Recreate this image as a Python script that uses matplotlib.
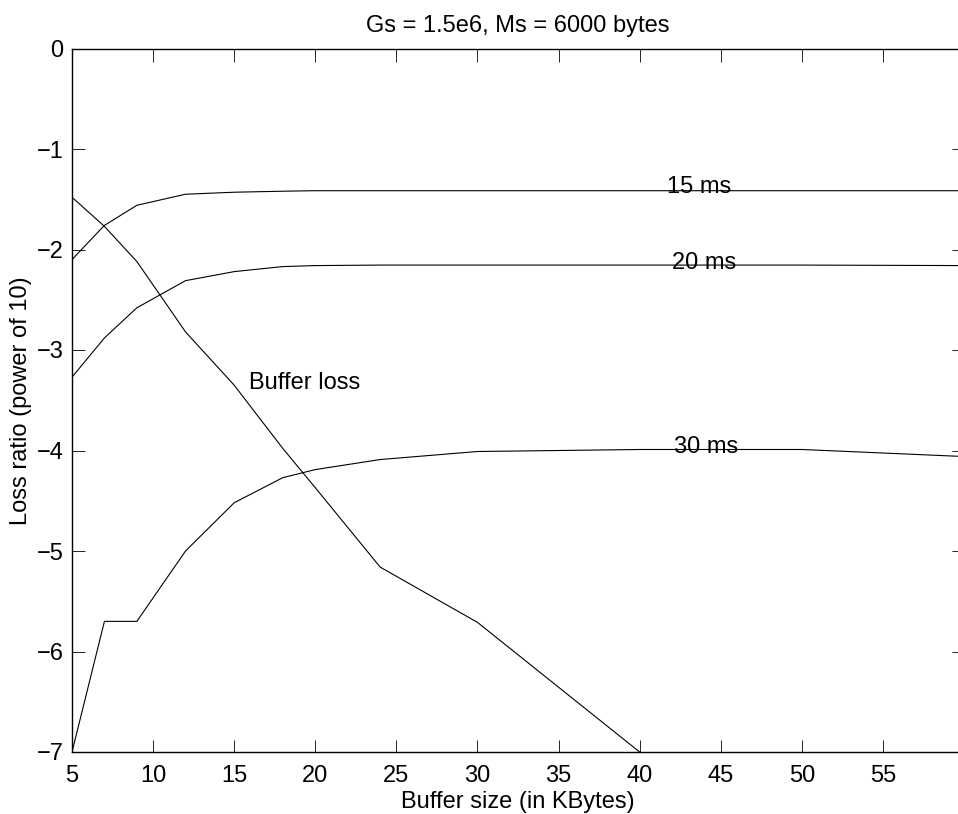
import matplotlib
matplotlib.use("Agg")
import matplotlib.pyplot as plt

plt.rcParams['font.family'] = ['Liberation Sans', 'DejaVu Sans']

# buffer sizes (KBytes)
buf = [5, 7, 9, 12, 15, 18, 20, 24, 30, 40, 50, 60]

# loss ratio (log10) for each delay bound
loss_15ms = [-2.10, -1.76, -1.56, -1.45, -1.43, -1.42, -1.415, -1.415, -1.415, -1.415, -1.415, -1.415]
loss_20ms = [-3.27, -2.88, -2.58, -2.31, -2.22, -2.17, -2.16, -2.155, -2.155, -2.155, -2.155, -2.16]
loss_30ms = [-7.00, -5.70, -5.70, -5.00, -4.52, -4.27, -4.19, -4.09, -4.01, -3.99, -3.99, -4.06]

# buffer loss curve
buf_b = [5, 7, 9, 12, 15, 18, 20, 24, 30, 40]
loss_buf = [-1.48, -1.77, -2.12, -2.82, -3.35, -3.98, -4.37, -5.16, -5.71, -7.00]

labels = [("15 ms", 41.7, -1.38), ("20 ms", 42.0, -2.13),
          ("30 ms", 42.1, -3.97), ("Buffer loss", 15.9, -3.33)]

fs = 17

fig = plt.figure(figsize=(9.58, 8.14), dpi=100)
ax = fig.add_axes([72 / 958, 1 - 752 / 814, (964 - 72) / 958, (752 - 48.5) / 814])

for ys in (loss_15ms, loss_20ms, loss_30ms):
    ax.plot(buf, ys, color='black', lw=0.8)
ax.plot(buf_b, loss_buf, color='black', lw=0.8)

for txt, x, y in labels:
    ax.text(x, y, txt, fontsize=fs, ha='left', va='center')

ax.set_xlim(5, 60)
ax.set_ylim(-7, 0)
ax.set_xticks(range(5, 60, 5))
ax.set_yticks(range(-7, 1))
ax.set_yticklabels(['\u22127', '\u22126', '\u22125', '\u22124', '\u22123', '\u22122', '\u22121', '0'])
ax.tick_params(direction='in', length=9, width=0.6, top=True, right=True, labelsize=fs)
ax.tick_params(axis='x', pad=9)
ax.tick_params(axis='y', pad=6)
for s in ax.spines.values():
    s.set_linewidth(1.0)

ax.set_xlabel('Buffer size (in KBytes)', fontsize=fs, labelpad=3)
ax.set_ylabel('Loss ratio (power of 10)', fontsize=fs, labelpad=3)
ax.set_title('Gs = 1.5e6, Ms = 6000 bytes', fontsize=fs, pad=12)

fig.savefig('out.png', dpi=100)
